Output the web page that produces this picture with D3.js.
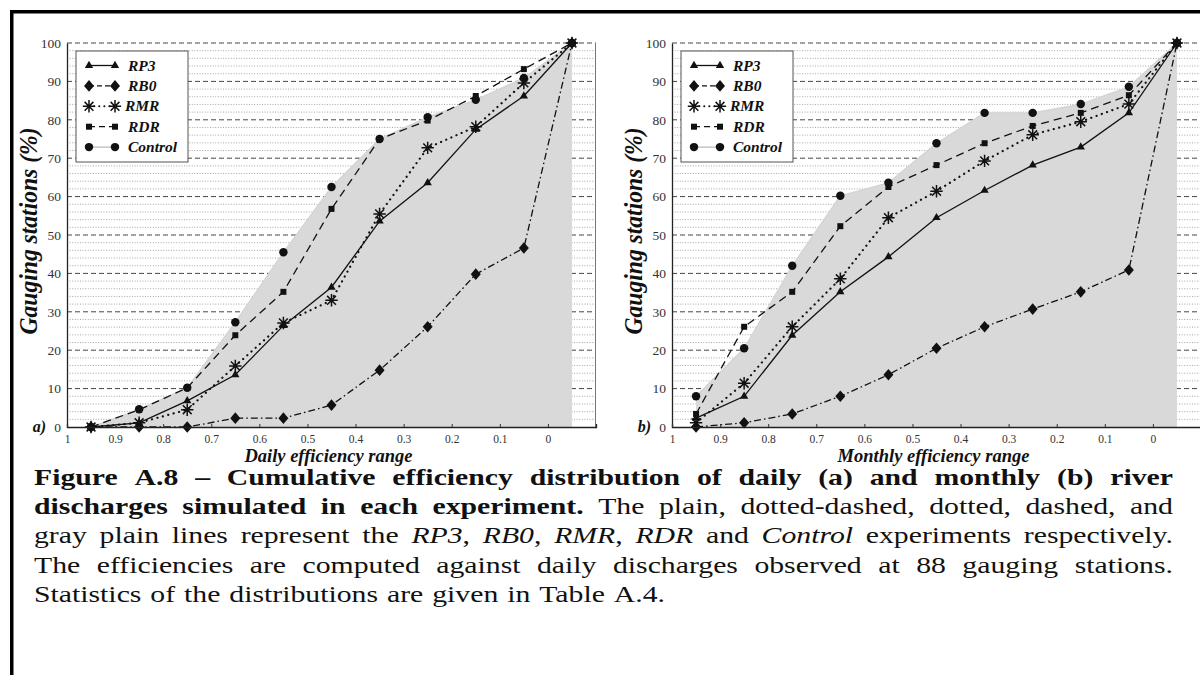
<!DOCTYPE html>
<html>
<head>
<meta charset="utf-8">
<script src="https://cdn.jsdelivr.net/npm/d3@7"></script>
<style>
  body { margin: 0; background: #fff; }
  svg { display: block; }
  svg text { font-family: "Liberation Serif", "Times New Roman", serif !important; }
</style>
</head>
<body>
<svg id="chart"></svg>
<script>
// efficiency bins (bin centres), last one is the "< 0" class
const bins = [0.95, 0.85, 0.75, 0.65, 0.55, 0.45, 0.35, 0.25, 0.15, 0.05, -0.05];
const xTickValues = [1, 0.9, 0.8, 0.7, 0.6, 0.5, 0.4, 0.3, 0.2, 0.1, 0];
const xTickLabels = ["1", "0.9", "0.8", "0.7", "0.6", "0.5", "0.4", "0.3", "0.2", "0.1", "0"];
const yTickValues = [0, 10, 20, 30, 40, 50, 60, 70, 80, 90, 100];
const seriesNames = ["RP3", "RB0", "RMR", "RDR", "Control"];

// daily (a), % of gauging stations
const dailyRP3     = [0, 1.1, 6.8, 13.6, 26.4, 36.4, 53.6, 63.6, 77.5, 86.2, 100];
const dailyRB0     = [0, 0, 0, 2.3, 2.3, 5.7, 14.8, 26.1, 39.8, 46.6, 100];
const dailyRMR     = [0, 1.1, 4.5, 15.9, 27.1, 33.0, 55.5, 72.7, 78.2, 89.6, 100];
const dailyRDR     = [0, 4.5, 10.2, 23.9, 35.2, 56.8, 75.0, 79.8, 86.2, 93.2, 100];
const dailyControl = [0, 4.6, 10.2, 27.3, 45.5, 62.5, 75.0, 80.7, 85.2, 90.9, 100];

// monthly (b)
const monthlyRP3     = [2.3, 8.0, 23.9, 35.2, 44.3, 54.5, 61.6, 68.2, 72.9, 81.8, 100];
const monthlyRB0     = [0, 1.1, 3.4, 8.0, 13.6, 20.5, 26.1, 30.7, 35.2, 40.9, 100];
const monthlyRMR     = [1.1, 11.4, 26.1, 38.6, 54.5, 61.4, 69.3, 76.1, 79.5, 84.1, 100];
const monthlyRDR     = [3.4, 26.1, 35.2, 52.3, 62.5, 68.2, 73.9, 78.4, 81.8, 86.4, 100];
const monthlyControl = [8.0, 20.5, 42.0, 60.2, 63.6, 73.9, 81.8, 81.8, 84.1, 88.6, 100];

// caption text, [text, style] pieces per line
const captionLines = [
  [["Figure A.8 – Cumulative efficiency distribution of daily (a) and monthly (b) river", "b"]],
  [["discharges simulated in each experiment.", "b"], [" The plain, dotted-dashed, dotted, dashed, and", "n"]],
  [["gray plain lines represent the ", "n"], ["RP3", "i"], [", ", "n"], ["RB0", "i"], [", ", "n"], ["RMR", "i"],
   [", ", "n"], ["RDR", "i"], [" and ", "n"], ["Control", "i"], [" experiments respectively.", "n"]],
  [["The efficiencies are computed against daily discharges observed at 88 gauging stations.", "n"]],
  [["Statistics of the distributions are given in Table A.4.", "n"]]
];

const W = 1200, H = 675;
const svg = d3.select("#chart").attr("width", W).attr("height", H);
svg.append("rect").attr("width", W).attr("height", H).attr("fill", "#fff");

// frame lines of the page
svg.append("rect").attr("x", 10).attr("y", 10).attr("width", W - 10).attr("height", 3.5).attr("fill", "#000");
svg.append("rect").attr("x", 10).attr("y", 10).attr("width", 3.5).attr("height", H - 10).attr("fill", "#000");

const styles = {
  RP3:     { dash: null, width: 1.3, color: "#111", symbol: "triangle" },
  RB0:     { dash: "7,3,1.6,3", width: 1.3, color: "#111", symbol: "diamond" },
  RMR:     { dash: "0.1,5.5", width: 2.2, color: "#111", symbol: "star", cap: "round" },
  RDR:     { dash: "8,5", width: 1.3, color: "#111", symbol: "square" },
  Control: { dash: null, width: 1.2, color: "#d3d3d3", symbol: "circle" }
};

function marker(g, type, x, y) {
  const s = g.append("path").attr("transform", `translate(${x},${y})`);
  if (type === "triangle") s.attr("d", d3.symbol(d3.symbolTriangle, 30)()).attr("fill", "#111");
  else if (type === "diamond") s.attr("d", "M0,-5.8L5,0L0,5.8L-5,0Z").attr("fill", "#111");
  else if (type === "square") s.attr("d", d3.symbol(d3.symbolSquare, 36)()).attr("fill", "#111");
  else if (type === "circle") s.attr("d", d3.symbol(d3.symbolCircle, 56)()).attr("fill", "#111");
  else {
    const r = 6.2, a = 4.4;
    s.attr("d", `M${-r},0L${r},0M0,${-r}L0,${r}M${-a},${-a}L${a},${a}M${-a},${a}L${a},${-a}`)
      .attr("stroke", "#111").attr("stroke-width", 1.5).attr("fill", "none");
  }
}

const panels = [
  { left: 67, right: 596, top: 43, bottom: 427, tag: "a)", xTitle: "Daily efficiency range",
    data: { RP3: dailyRP3, RB0: dailyRB0, RMR: dailyRMR, RDR: dailyRDR, Control: dailyControl } },
  { left: 672, right: 1201, top: 43, bottom: 427, tag: "b)", xTitle: "Monthly efficiency range",
    data: { RP3: monthlyRP3, RB0: monthlyRB0, RMR: monthlyRMR, RDR: monthlyRDR, Control: monthlyControl } }
];

panels.forEach(p => {
  const x = d3.scaleLinear().domain([1, -0.1]).range([p.left, p.right]);
  const y = d3.scaleLinear().domain([0, 100]).range([p.bottom, p.top]);
  const g = svg.append("g");

  // minor dotted grid every 2 %
  const minor = d3.range(2, 100, 2).filter(v => v % 10 !== 0);
  g.selectAll(".minor").data(minor).enter().append("line")
    .attr("x1", p.left).attr("x2", p.right)
    .attr("y1", d => y(d)).attr("y2", d => y(d))
    .attr("stroke", "#8f8f8f").attr("stroke-width", 0.8).attr("stroke-dasharray", "1,1.6");
  // major dashed grid
  g.selectAll(".major").data(yTickValues.slice(1)).enter().append("line")
    .attr("x1", p.left).attr("x2", p.right)
    .attr("y1", d => y(d)).attr("y2", d => y(d))
    .attr("stroke", "#444").attr("stroke-width", 1).attr("stroke-dasharray", "5,3");

  // gray area of Control
  const ctrl = p.data.Control;
  const area = d3.area().x((d, i) => x(bins[i])).y0(y(0)).y1(d => y(d));
  g.append("path").datum(ctrl).attr("d", area).attr("fill", "#d9d9d9");

  // right frame
  g.append("line").attr("x1", p.right - 0.5).attr("x2", p.right - 0.5)
    .attr("y1", p.top).attr("y2", p.bottom).attr("stroke", "#777").attr("stroke-width", 1);

  // lines
  const line = d3.line().x((d, i) => x(bins[i])).y(d => y(d));
  ["Control", "RB0", "RP3", "RMR", "RDR"].forEach(name => {
    const st = styles[name];
    g.append("path").datum(p.data[name]).attr("d", line)
      .attr("fill", "none").attr("stroke", st.color).attr("stroke-width", st.width)
      .attr("stroke-dasharray", st.dash).attr("stroke-linecap", st.cap || "butt");
  });
  // markers
  ["Control", "RB0", "RP3", "RMR", "RDR"].forEach(name => {
    p.data[name].forEach((v, i) => marker(g, styles[name].symbol, x(bins[i]), y(v)));
  });

  // axes
  const yAxis = d3.axisLeft(y).tickValues(yTickValues).tickSize(0).tickPadding(6);
  const ya = g.append("g").attr("transform", `translate(${p.left},0)`).call(yAxis);
  ya.select(".domain").attr("stroke", "#222").attr("stroke-width", 1.3);
  ya.selectAll("text").attr("font-size", 13.5).attr("fill", "#333");

  const xAxis = d3.axisBottom(x).tickValues(xTickValues).tickSize(-3).tickPadding(8)
    .tickFormat((d, i) => xTickLabels[i]);
  const xa = g.append("g").attr("transform", `translate(0,${p.bottom})`).call(xAxis);
  xa.select(".domain").attr("stroke", "#222").attr("stroke-width", 1.3);
  xa.selectAll(".tick line").attr("stroke", "#333");
  xa.selectAll("text").attr("font-size", 11.5).attr("fill", "#333");

  // titles
  g.append("text").attr("x", (p.left + p.right) / 2 - 3).attr("y", 462).attr("text-anchor", "middle")
    .attr("font-size", 18.5).attr("font-weight", "bold").attr("font-style", "italic").attr("fill", "#111")
    .text(p.xTitle);
  g.append("text").attr("transform", `translate(${p.left - 30},${(p.top + p.bottom) / 2 - 4}) rotate(-90)`)
    .attr("text-anchor", "middle").attr("font-size", 25).attr("font-weight", "bold").attr("font-style", "italic")
    .attr("textLength", 207).attr("lengthAdjust", "spacingAndGlyphs").attr("fill", "#111")
    .text("Gauging stations (%)");
  g.append("text").attr("x", p.left - 21).attr("y", p.bottom + 5).attr("text-anchor", "end")
    .attr("font-size", 16).attr("font-weight", "bold").attr("font-style", "italic").attr("fill", "#111")
    .text(p.tag);

  // legend
  const lg = g.append("g").attr("transform", `translate(${p.left + 9},${p.top + 8})`);
  lg.append("rect").attr("width", 112).attr("height", 111).attr("fill", "#fff")
    .attr("stroke", "#555").attr("stroke-width", 1);
  seriesNames.forEach((name, i) => {
    const st = styles[name];
    const yy = 14.5 + i * 20.4;
    lg.append("line").attr("x1", 13).attr("x2", 39).attr("y1", yy).attr("y2", yy)
      .attr("stroke", name === "Control" ? "#bdbdbd" : st.color).attr("stroke-width", name === "RMR" ? 2 : 1.3)
      .attr("stroke-dasharray", name === "RB0" ? "5,3" : name === "RMR" ? "0.1,5" : name === "RDR" ? "6,4" : null)
      .attr("stroke-linecap", st.cap || "butt");
    marker(lg, st.symbol, 13, yy);
    marker(lg, st.symbol, 39, yy);
    lg.append("text").attr("x", name === "RMR" ? 49 : 52).attr("y", yy + 5)
      .attr("font-size", 15.5).attr("font-weight", "bold").attr("font-style", "italic").attr("fill", "#111")
      .text(name);
  });
});

// caption, justified word by word; the face is stretched to the width of the original Garamond
const capLeft = 34, capRight = 1173, capTop = 485, capLead = 29.2, capSize = 24, capStretch = 1.24;
const cap = svg.append("g").attr("transform", `translate(${capLeft},0) scale(${capStretch},1)`);
const capWidth = (capRight - capLeft) / capStretch;
captionLines.forEach((pieces, li) => {
  // split into words keeping styles
  const words = [];
  let cur = [];
  pieces.forEach(([txt, st]) => {
    const parts = txt.split(" ");
    parts.forEach((part, k) => {
      if (k > 0) { if (cur.length) words.push(cur); cur = []; }
      if (part.length) cur.push([part, st]);
    });
  });
  if (cur.length) words.push(cur);

  const yy = capTop + li * capLead;
  const nodes = words.map(w => {
    const t = cap.append("text").attr("y", yy).attr("font-size", capSize).attr("fill", "#111");
    w.forEach(([txt, st]) => {
      t.append("tspan").text(txt)
        .attr("font-weight", st === "b" ? "bold" : "normal")
        .attr("font-style", st === "i" ? "italic" : "normal");
    });
    return t;
  });
  const widths = nodes.map(n => n.node().getComputedTextLength());
  const total = d3.sum(widths);
  const last = li === captionLines.length - 1;
  const gap = last ? capSize * 0.3 : (capWidth - total) / (words.length - 1);
  let xx = 0;
  nodes.forEach((n, i) => { n.attr("x", xx); xx += widths[i] + gap; });
});
</script>
</body>
</html>
